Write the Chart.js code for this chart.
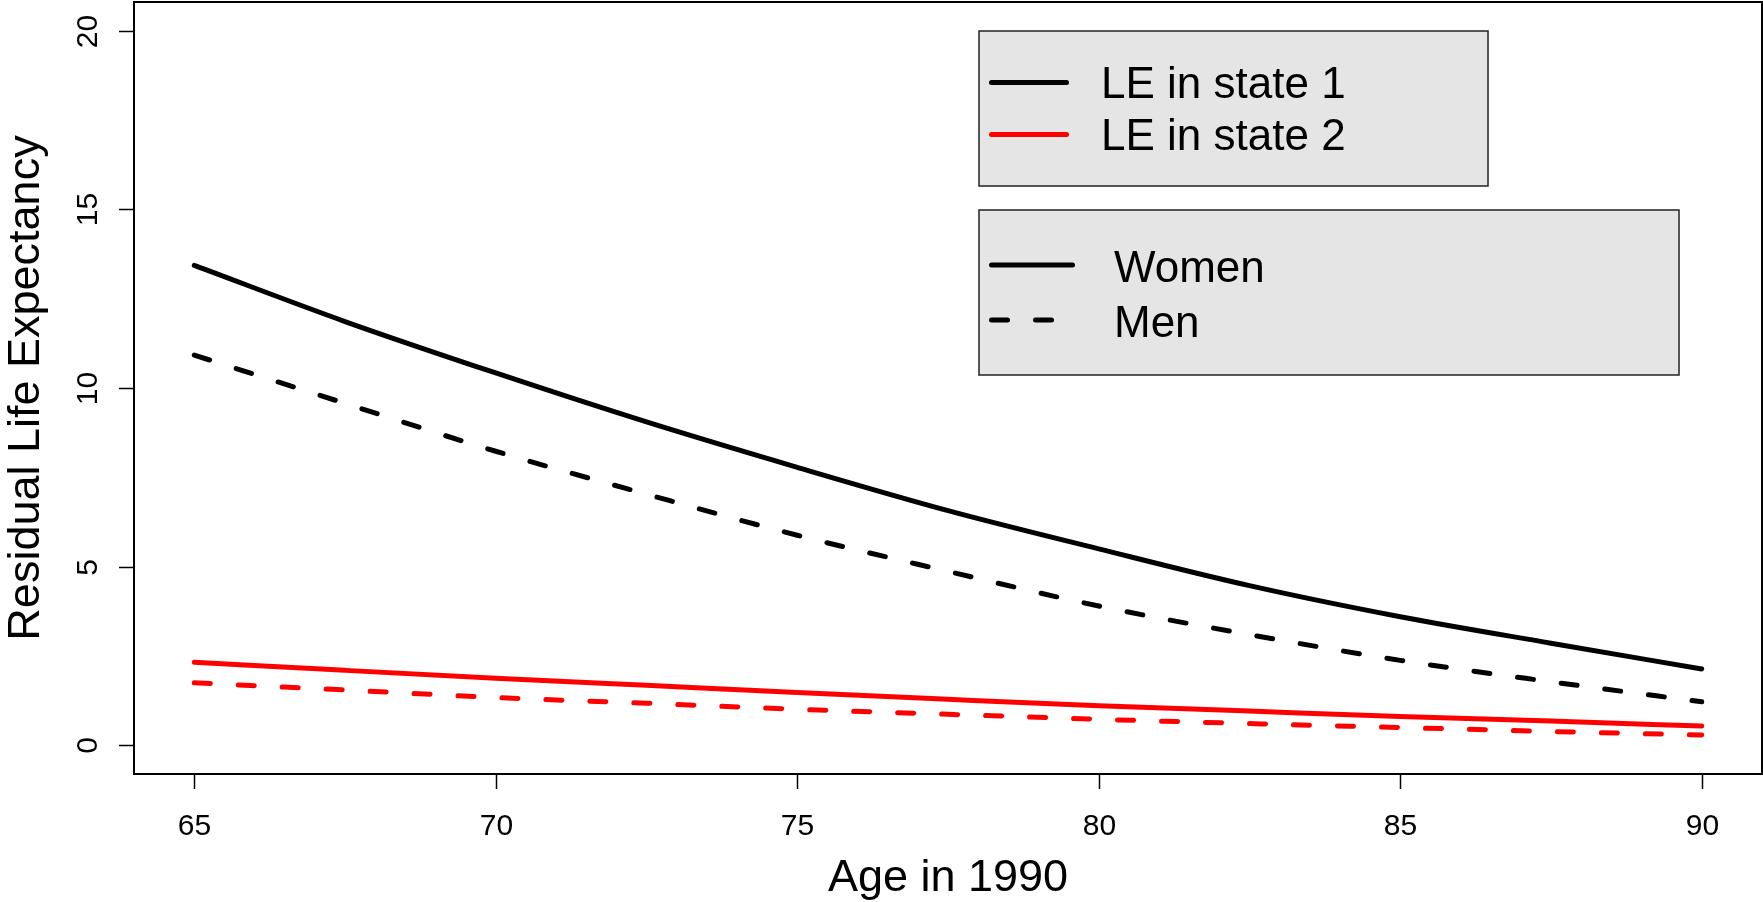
<!DOCTYPE html>
<html>
<head>
<meta charset="utf-8">
<title>Residual Life Expectancy</title>
<script src="https://cdn.jsdelivr.net/npm/chart.js@4/dist/chart.umd.min.js"></script>
<style>
  html, body { margin: 0; padding: 0; background: #fff; }
  #wrap { width: 1763px; height: 902px; position: relative; }
</style>
</head>
<body>
<div id="wrap"><canvas id="leChart"></canvas></div>
<script>
// Ages and residual life expectancy (years) per state and sex
const ages = [65, 67.5, 70, 72.5, 75, 77.5, 80, 82.5, 85, 87.5, 90];
const womenState1 = [13.43, 11.86, 10.42, 9.05, 7.78, 6.57, 5.50, 4.47, 3.60, 2.86, 2.14];
const menState1 = [10.92, 9.57, 8.23, 7.03, 5.88, 4.87, 3.90, 3.10, 2.38, 1.78, 1.22];
const womenState2 = [2.33, 2.10, 1.88, 1.68, 1.48, 1.29, 1.11, 0.96, 0.81, 0.68, 0.54];
const menState2 = [1.75, 1.55, 1.34, 1.18, 1.01, 0.87, 0.73, 0.61, 0.50, 0.39, 0.29];

const xTicks = [65, 70, 75, 80, 85, 90];
const yTicks = [0, 5, 10, 15, 20];

const stateLabels = ["LE in state 1", "LE in state 2"];
const stateColors = ["#000000", "#ff0000"];
const sexLabels = ["Women", "Men"];
const sexDashes = [[], [16, 28]];

const FONT = "'Liberation Sans', Arial, Helvetica, sans-serif";

function series(values, color, dash, label) {
  return {
    label: label,
    data: ages.map((a, i) => ({ x: a, y: values[i] })),
    borderColor: color,
    borderWidth: 5,
    borderDash: dash,
    borderCapStyle: "round",
    borderJoinStyle: "round",
    pointRadius: 0,
    cubicInterpolationMode: "monotone",
    fill: false
  };
}

// Box, R-style axes and the two legend panels
const frame = {
  id: "frame",
  afterDraw(chart) {
    const ctx = chart.ctx;
    const a = chart.chartArea;
    const xs = chart.scales.x;
    const ys = chart.scales.y;
    ctx.save();

    ctx.strokeStyle = "#000";
    ctx.lineWidth = 2;
    ctx.strokeRect(a.left, a.top, a.right - a.left, a.bottom - a.top);

    ctx.lineWidth = 1.5;
    ctx.fillStyle = "#000";
    ctx.font = "30px " + FONT;

    // x axis ticks
    ctx.textAlign = "center";
    ctx.textBaseline = "alphabetic";
    xTicks.forEach(v => {
      const px = Math.round(xs.getPixelForValue(v)) + 0.5;
      ctx.beginPath();
      ctx.moveTo(px, a.bottom);
      ctx.lineTo(px, a.bottom + 15);
      ctx.stroke();
      ctx.fillText(String(v), px, 835);
    });

    // y axis ticks, labels turned like R's default
    yTicks.forEach(v => {
      const py = Math.round(ys.getPixelForValue(v)) + 0.5;
      ctx.beginPath();
      ctx.moveTo(a.left, py);
      ctx.lineTo(a.left - 15, py);
      ctx.stroke();
      ctx.save();
      ctx.translate(97, py);
      ctx.rotate(-Math.PI / 2);
      ctx.fillText(String(v), 0, 0);
      ctx.restore();
    });

    // axis titles
    ctx.font = "45px " + FONT;
    ctx.fillText("Age in 1990", (a.left + a.right) / 2, 891);
    ctx.save();
    ctx.translate(39, (a.top + a.bottom) / 2);
    ctx.rotate(-Math.PI / 2);
    ctx.fillText("Residual Life Expectancy", 0, 0);
    ctx.restore();

    // legend panels
    ctx.font = "44px " + FONT;
    ctx.textAlign = "left";
    const panel = (x, y, w, h) => {
      ctx.fillStyle = "#e5e5e5";
      ctx.fillRect(x, y, w, h);
      ctx.strokeStyle = "#222";
      ctx.lineWidth = 1.5;
      ctx.strokeRect(x, y, w, h);
    };
    const sample = (y, color, dash, len) => {
      ctx.save();
      ctx.strokeStyle = color;
      ctx.lineWidth = 5;
      ctx.lineCap = "round";
      ctx.setLineDash(dash);
      ctx.beginPath();
      ctx.moveTo(991.5, y);
      ctx.lineTo(991.5 + len, y);
      ctx.stroke();
      ctx.restore();
    };

    panel(979, 31, 509, 155);
    stateLabels.forEach((lab, i) => {
      const y = 82.5 + i * 52;
      sample(y, stateColors[i], [], 75);
      ctx.fillStyle = "#000";
      ctx.fillText(lab, 1101, 98 + i * 52);
    });

    panel(979, 210, 700, 165);
    sexLabels.forEach((lab, i) => {
      const y = 265 + i * 55;
      sample(y, "#000", sexDashes[i], 81);
      ctx.fillStyle = "#000";
      ctx.fillText(lab, 1114, 282 + i * 55);
    });

    ctx.restore();
  }
};

new Chart(document.getElementById("leChart"), {
  type: "line",
  data: {
    datasets: [
      series(womenState1, stateColors[0], sexDashes[0], "Women, state 1"),
      series(menState1, stateColors[0], sexDashes[1], "Men, state 1"),
      series(womenState2, stateColors[1], sexDashes[0], "Women, state 2"),
      series(menState2, stateColors[1], sexDashes[1], "Men, state 2")
    ]
  },
  options: {
    responsive: true,
    maintainAspectRatio: false,
    animation: false,
    devicePixelRatio: 1,
    layout: { padding: { left: 134, top: 2, right: 1, bottom: 128 } },
    plugins: { legend: { display: false }, tooltip: { enabled: false } },
    scales: {
      x: { type: "linear", min: 64, max: 91, display: false },
      y: { type: "linear", min: -0.8, max: 20.8, display: false }
    }
  },
  plugins: [frame]
});
</script>
</body>
</html>
